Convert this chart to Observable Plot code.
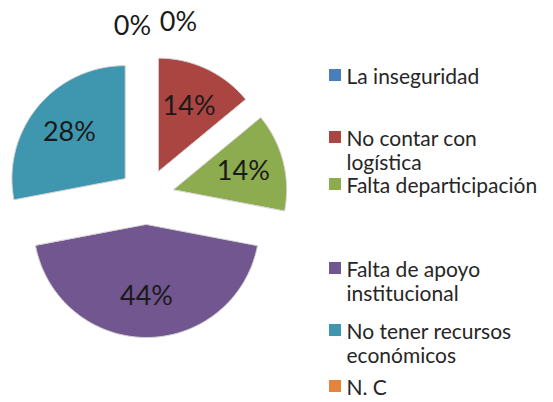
<!DOCTYPE html>
<html>
<head>
<meta charset="utf-8">
<script src="https://cdn.jsdelivr.net/npm/d3@7"></script>
<script src="https://cdn.jsdelivr.net/npm/@observablehq/plot@0.6"></script>
<style>
  html, body { margin: 0; padding: 0; background: #fff; }
  #chart svg { display: block; }
</style>
</head>
<body>
<div id="chart"></div>
<script>
// ---- data ----
const categories = ["La inseguridad", "No contar con logística", "Falta departicipación", "Falta de apoyo institucional", "No tener recursos económicos", "N. C"];
const percents = [0, 14, 14, 44, 28, 0];
const legendText = ["La inseguridad", "No contar con\nlogística", "Falta departicipación", "Falta de apoyo\ninstitucional", "No tener recursos\neconómicos", "N. C"];
const colors = ["#4a7ebb", "#ab4542", "#8dab4f", "#71568f", "#3f97af", "#e5843c"];

// ---- layout ----
const W = 553, H = 402;
const cx = 146, cy = 196, R = 113, explode = 28, labelR = 100;
const zeroLabelR = 172, zeroNudge = [32, -14];
const legendX = 329, legendBox = 12, legendTextX = 346;
const legendBaselines = [81, 143, 190, 274, 336, 392];
const legendFont = 21, legendLH = 1.14;

const total = d3.sum(percents);
const slices = [];
const labels = [];
let acc = 0, zeroIdx = 0;
categories.forEach((cat, i) => {
  const v = percents[i];
  const a0 = acc / total * 2 * Math.PI;
  acc += v;
  const a1 = acc / total * 2 * Math.PI;
  const mid = (a0 + a1) / 2;
  if (v > 0) {
    const ox = cx + explode * Math.sin(mid), oy = cy - explode * Math.cos(mid);
    slices.push({cat, x: ox, y: oy});
    const n = Math.max(2, Math.ceil((a1 - a0) / (Math.PI / 180)));
    for (let k = 0; k <= n; k++) {
      const a = a0 + (a1 - a0) * k / n;
      slices.push({cat, x: ox + R * Math.sin(a), y: oy - R * Math.cos(a)});
    }
    labels.push({text: v + "%", x: cx + labelR * Math.sin(mid), y: cy - labelR * Math.cos(mid)});
  } else {
    labels.push({text: v + "%", x: cx + zeroNudge[zeroIdx] , y: cy - zeroLabelR - (zeroIdx === 0 ? 2 : -2)});
    zeroIdx++;
  }
});

const legend = categories.map((cat, i) => ({
  cat, text: legendText[i], base: legendBaselines[i]
}));

const chart = Plot.plot({
  width: W, height: H, margin: 0,
  x: {domain: [0, W], range: [0, W], axis: null},
  y: {domain: [0, H], range: [0, H], axis: null},
  color: {domain: categories, range: colors},
  style: {fontFamily: "Lato, 'Open Sans', sans-serif", background: "#fff"},
  marks: [
    Plot.line(slices, {x: "x", y: "y", z: "cat", fill: "cat", stroke: "#d4d4d4", strokeWidth: 1, curve: "linear-closed"}),
    Plot.text(labels, {x: "x", y: "y", text: "text", fontSize: 27, fill: "#1a1a1a", textAnchor: "middle", lineAnchor: "middle"}),
    Plot.rect(legend, {x1: legendX, x2: legendX + legendBox, y1: d => d.base - 6 - legendBox / 2, y2: d => d.base - 6 + legendBox / 2, fill: "cat"}),
    Plot.text(legend, {x: legendTextX, y: d => d.base - 0.71 * legendFont, text: "text", fontSize: legendFont, lineHeight: legendLH, fill: "#262626", textAnchor: "start", lineAnchor: "top"})
  ]
});
document.getElementById("chart").appendChild(chart);
</script>
</body>
</html>
